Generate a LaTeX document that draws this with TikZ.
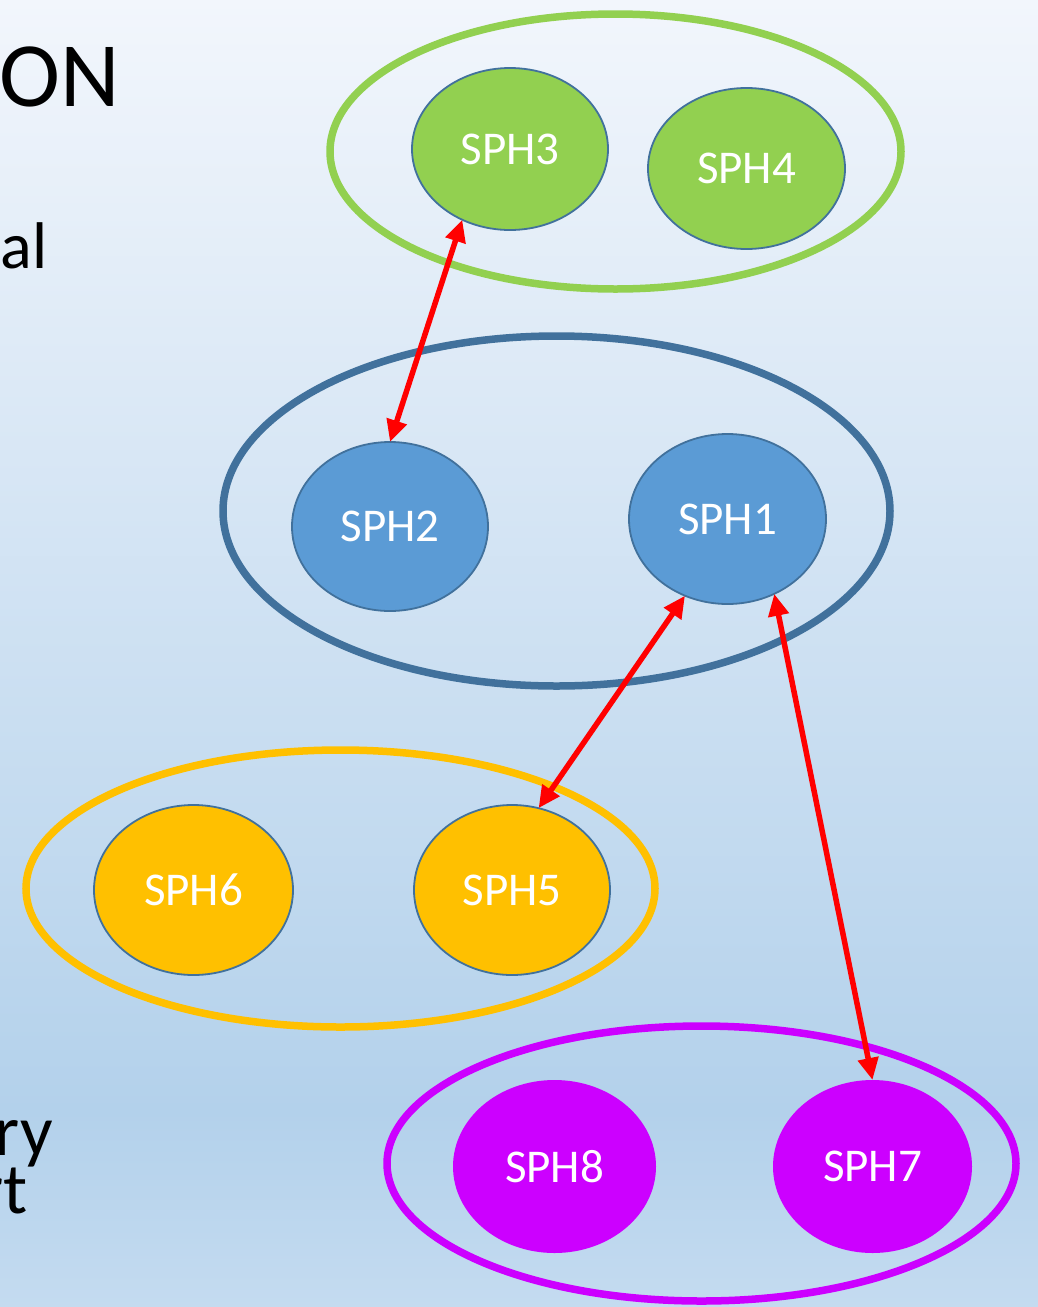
\documentclass[tikz,border=0pt]{standalone}
\usepackage{fontspec}
\setmainfont{Carlito}
\usetikzlibrary{shapes.geometric,arrows.meta}

\definecolor{bgtop}{RGB}{242,246,252}
\definecolor{bgdeep}{RGB}{179,209,235}
\definecolor{bgbot}{RGB}{196,219,240}
\definecolor{grpgreen}{RGB}{146,208,80}
\definecolor{grpblue}{RGB}{65,113,156}
\definecolor{grporange}{RGB}{255,192,0}
\definecolor{grppurple}{RGB}{204,0,255}
\definecolor{nodeblue}{RGB}{91,155,213}
\definecolor{linkred}{RGB}{255,0,0}

% slide background: light at the top, deepest blue near the bottom
\pgfdeclareverticalshading{slidebg}{100bp}{color(0bp)=(bgbot); color(25bp)=(bgbot); color(32.5bp)=(bgdeep); color(75bp)=(bgtop); color(100bp)=(bgtop)}

\begin{document}
\begin{tikzpicture}[x=1pt,y=-1pt,
  group/.style={ellipse, draw, line width=7.5pt, inner sep=0pt, outer sep=0pt},
  sph/.style={ellipse, draw=grpblue, line width=1.8pt, inner sep=0pt, outer sep=0pt,
    text=white, font=\fontsize{47}{50}\selectfont},
  link/.style={draw=linkred, line width=5.5pt,
    {Triangle[length=22pt,width=20pt]}-{Triangle[length=22pt,width=20pt]}},
  slidetext/.style={inner sep=0pt, anchor=base east, text=black}]

\useasboundingbox (0,0) rectangle (1038,1307);
\shade[shading=slidebg] (0,0) rectangle (1038,1307);

% slide text cut off at the left edge
\node[slidetext, font=\fontsize{92}{96}\selectfont] (ttl) at (120,106) {ON};
\node[slidetext, font=\fontsize{66}{70}\selectfont] (lineA) at (47.5,268) {al};
\node[slidetext, font=\fontsize{72}{72}\selectfont] (lineB) at (53,1155) {ry};
\node[slidetext, font=\fontsize{72}{72}\selectfont] (lineC) at (28,1213) {rt};

% groups
\node[group, draw=grpgreen, minimum width=571pt, minimum height=275pt] (grpA) at (615.5,151.5) {};
\node[group, draw=grpblue, minimum width=667pt, minimum height=350pt] (grpB) at (556.5,511) {};
\node[group, draw=grporange, minimum width=629pt, minimum height=277pt] (grpC) at (340.5,888.5) {};
\node[group, draw=grppurple, minimum width=629pt, minimum height=275pt] (grpD) at (701.5,1163.5) {};

% members
\node[sph, fill=grpgreen, minimum width=196pt, minimum height=162pt] (sph3) at (510,149) {SPH3};
\node[sph, fill=grpgreen, minimum width=197pt, minimum height=161pt] (sph4) at (746.5,168.5) {SPH4};
\node[sph, fill=nodeblue, minimum width=196pt, minimum height=169pt] (sph2) at (390,526.5) {SPH2};
\node[sph, fill=nodeblue, minimum width=197pt, minimum height=170pt] (sph1) at (727.5,519) {SPH1};
\node[sph, fill=grporange, minimum width=199pt, minimum height=170pt] (sph6) at (193.5,890) {SPH6};
\node[sph, fill=grporange, minimum width=196pt, minimum height=170pt] (sph5) at (512,890) {SPH5};
\node[sph, draw=none, fill=grppurple, minimum width=203pt, minimum height=173pt] (sph8) at (554.5,1166.5) {SPH8};
\node[sph, draw=none, fill=grppurple, minimum width=199pt, minimum height=173pt] (sph7) at (872.5,1166.5) {SPH7};

% links
\draw[link] (sph3.236) -- (sph2.north);
\draw[link] (sph1.241) -- (sph5.72);
\draw[link] (sph1.302) -- (sph7.north);
\end{tikzpicture}
\end{document}
